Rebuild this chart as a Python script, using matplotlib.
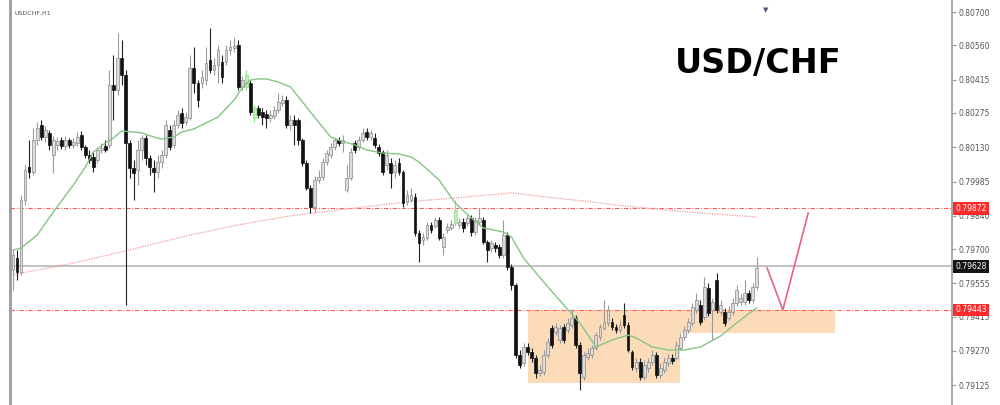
import matplotlib
matplotlib.use("Agg")
import matplotlib.pyplot as plt
import matplotlib.transforms as mtransforms
from matplotlib.patches import Rectangle
import numpy as np

# H1 candles, USD/CHF
opens = [
    0.79612, 0.79662, 0.79603, 0.79907, 0.80046, 0.80025, 0.80160, 0.80224, 0.80173, 0.80190,
    0.80097, 0.80139, 0.80160, 0.80135, 0.80160, 0.80139, 0.80148, 0.80181, 0.80131, 0.80097,
    0.80089, 0.80076, 0.80118, 0.80135, 0.80139, 0.80392, 0.80371, 0.80506, 0.80434, 0.80148,
    0.80042, 0.80034, 0.80118, 0.80169, 0.80084, 0.80042, 0.80025, 0.80067, 0.80097, 0.80202,
    0.80139, 0.80224, 0.80274, 0.80236, 0.80253, 0.80464, 0.80401, 0.80401, 0.80413, 0.80498,
    0.80456, 0.80477, 0.80489, 0.80489, 0.80540, 0.80548, 0.80561, 0.80384, 0.80384, 0.80401,
    0.80253, 0.80295, 0.80278, 0.80270, 0.80253, 0.80262, 0.80287, 0.80316, 0.80329, 0.80224,
    0.80245, 0.80245, 0.80160, 0.80063, 0.79958, 0.79877, 0.79991, 0.80004, 0.80067, 0.80097,
    0.80131, 0.80160, 0.80148, 0.79949, 0.80000, 0.80148, 0.80131, 0.80160, 0.80194, 0.80173,
    0.80169, 0.80131, 0.80110, 0.80055, 0.80063, 0.80025, 0.80063, 0.80025, 0.79899, 0.79907,
    0.79920, 0.79768, 0.79738, 0.79747, 0.79802, 0.79797, 0.79823, 0.79709, 0.79780, 0.79789,
    0.79810, 0.79802, 0.79814, 0.79810, 0.79831, 0.79772, 0.79814, 0.79823, 0.79730, 0.79704,
    0.79717, 0.79709, 0.79675, 0.79759, 0.79624, 0.79548, 0.79253, 0.79219, 0.79287, 0.79266,
    0.79240, 0.79177, 0.79181, 0.79253, 0.79367, 0.79350, 0.79316, 0.79371, 0.79359, 0.79380,
    0.79409, 0.79295, 0.79160, 0.79245, 0.79253, 0.79282, 0.79329, 0.79367, 0.79388, 0.79392,
    0.79371, 0.79359, 0.79422, 0.79380, 0.79266, 0.79198, 0.79223, 0.79160, 0.79198, 0.79223,
    0.79253, 0.79169, 0.79190, 0.79219, 0.79240, 0.79240, 0.79282, 0.79329, 0.79359, 0.79388,
    0.79443, 0.79464, 0.79413, 0.79536, 0.79443, 0.79570, 0.79434, 0.79434, 0.79409, 0.79434,
    0.79472, 0.79477, 0.79477, 0.79515, 0.79485, 0.79540,
]
highs = [
    0.79696, 0.79696, 0.79928, 0.80055, 0.80160, 0.80211, 0.80236, 0.80245, 0.80219, 0.80202,
    0.80177, 0.80173, 0.80173, 0.80177, 0.80169, 0.80169, 0.80194, 0.80198, 0.80139, 0.80118,
    0.80110, 0.80131, 0.80148, 0.80160, 0.80456, 0.80519, 0.80612, 0.80582, 0.80456, 0.80160,
    0.80076, 0.80160, 0.80181, 0.80181, 0.80097, 0.80076, 0.80097, 0.80118, 0.80245, 0.80224,
    0.80245, 0.80287, 0.80295, 0.80278, 0.80519, 0.80553, 0.80413, 0.80456, 0.80553, 0.80633,
    0.80506, 0.80561, 0.80519, 0.80561, 0.80582, 0.80595, 0.80582, 0.80430, 0.80456, 0.80413,
    0.80308, 0.80308, 0.80295, 0.80287, 0.80287, 0.80304, 0.80359, 0.80350, 0.80346, 0.80266,
    0.80266, 0.80253, 0.80169, 0.80076, 0.79970, 0.80008, 0.80034, 0.80084, 0.80118, 0.80148,
    0.80169, 0.80173, 0.80181, 0.80055, 0.80126, 0.80160, 0.80177, 0.80211, 0.80211, 0.80202,
    0.80190, 0.80143, 0.80118, 0.80118, 0.80084, 0.80076, 0.80084, 0.80034, 0.79949, 0.79958,
    0.79937, 0.79780, 0.79768, 0.79814, 0.79814, 0.79835, 0.79835, 0.79768, 0.79810, 0.79823,
    0.79907, 0.79831, 0.79831, 0.79848, 0.79844, 0.79835, 0.79873, 0.79835, 0.79738, 0.79738,
    0.79730, 0.79721, 0.79823, 0.79772, 0.79637, 0.79557, 0.79274, 0.79304, 0.79304, 0.79282,
    0.79253, 0.79211, 0.79274, 0.79325, 0.79380, 0.79388, 0.79380, 0.79384, 0.79409, 0.79443,
    0.79422, 0.79308, 0.79266, 0.79282, 0.79295, 0.79350, 0.79384, 0.79485, 0.79464, 0.79409,
    0.79384, 0.79401, 0.79472, 0.79392, 0.79274, 0.79240, 0.79240, 0.79232, 0.79240, 0.79274,
    0.79266, 0.79219, 0.79245, 0.79257, 0.79257, 0.79312, 0.79346, 0.79375, 0.79409, 0.79472,
    0.79515, 0.79485, 0.79582, 0.79557, 0.79493, 0.79599, 0.79485, 0.79451, 0.79460, 0.79493,
    0.79548, 0.79510, 0.79570, 0.79527, 0.79557, 0.79667,
]
lows = [
    0.79527, 0.79569, 0.79591, 0.79886, 0.80000, 0.80012, 0.80139, 0.80160, 0.80152, 0.80118,
    0.80021, 0.80118, 0.80122, 0.80118, 0.80126, 0.80126, 0.80135, 0.80118, 0.80084, 0.80063,
    0.80025, 0.80063, 0.80105, 0.80110, 0.80126, 0.80245, 0.80350, 0.80392, 0.79464, 0.80000,
    0.79907, 0.79970, 0.80076, 0.80055, 0.80012, 0.79941, 0.80000, 0.80042, 0.80084, 0.80118,
    0.80126, 0.80211, 0.80211, 0.80224, 0.80245, 0.80359, 0.80300, 0.80380, 0.80392, 0.80443,
    0.80434, 0.80401, 0.80401, 0.80477, 0.80519, 0.80532, 0.80371, 0.80371, 0.80371, 0.80266,
    0.80236, 0.80253, 0.80224, 0.80211, 0.80236, 0.80249, 0.80274, 0.80304, 0.80211, 0.80202,
    0.80139, 0.80139, 0.80050, 0.79949, 0.79852, 0.79856, 0.79979, 0.79991, 0.80055, 0.80084,
    0.80118, 0.80135, 0.80110, 0.79941, 0.79991, 0.80105, 0.80118, 0.80152, 0.80160, 0.80160,
    0.80126, 0.80093, 0.80012, 0.80034, 0.79958, 0.80000, 0.80012, 0.79877, 0.79886, 0.79899,
    0.79755, 0.79645, 0.79717, 0.79738, 0.79768, 0.79789, 0.79738, 0.79675, 0.79768, 0.79780,
    0.79797, 0.79789, 0.79772, 0.79797, 0.79755, 0.79759, 0.79802, 0.79721, 0.79645, 0.79688,
    0.79688, 0.79662, 0.79662, 0.79612, 0.79527, 0.79240, 0.79198, 0.79207, 0.79253, 0.79223,
    0.79156, 0.79164, 0.79169, 0.79240, 0.79282, 0.79337, 0.79304, 0.79304, 0.79346, 0.79367,
    0.79282, 0.79105, 0.79147, 0.79232, 0.79240, 0.79274, 0.79316, 0.79359, 0.79375, 0.79359,
    0.79346, 0.79346, 0.79367, 0.79266, 0.79190, 0.79181, 0.79147, 0.79147, 0.79181, 0.79211,
    0.79156, 0.79156, 0.79177, 0.79207, 0.79215, 0.79232, 0.79274, 0.79316, 0.79346, 0.79375,
    0.79430, 0.79380, 0.79401, 0.79418, 0.79316, 0.79430, 0.79422, 0.79375, 0.79401, 0.79422,
    0.79460, 0.79464, 0.79464, 0.79472, 0.79472, 0.79527,
]
closes = [
    0.79675, 0.79603, 0.79907, 0.80034, 0.80025, 0.80160, 0.80211, 0.80173, 0.80202, 0.80139,
    0.80160, 0.80156, 0.80135, 0.80160, 0.80139, 0.80152, 0.80173, 0.80131, 0.80097, 0.80076,
    0.80046, 0.80118, 0.80126, 0.80118, 0.80392, 0.80371, 0.80506, 0.80434, 0.80148, 0.80042,
    0.80021, 0.80118, 0.80169, 0.80084, 0.80046, 0.80025, 0.80067, 0.80097, 0.80224, 0.80131,
    0.80224, 0.80266, 0.80232, 0.80257, 0.80464, 0.80401, 0.80329, 0.80426, 0.80485, 0.80456,
    0.80477, 0.80540, 0.80426, 0.80540, 0.80553, 0.80557, 0.80384, 0.80413, 0.80434, 0.80278,
    0.80295, 0.80266, 0.80257, 0.80253, 0.80266, 0.80287, 0.80321, 0.80329, 0.80224, 0.80245,
    0.80224, 0.80160, 0.80063, 0.79958, 0.79877, 0.79991, 0.80004, 0.80067, 0.80105, 0.80131,
    0.80160, 0.80148, 0.80160, 0.80000, 0.80110, 0.80118, 0.80160, 0.80190, 0.80173, 0.80190,
    0.80139, 0.80105, 0.80025, 0.80097, 0.80021, 0.80055, 0.80025, 0.79894, 0.79928, 0.79928,
    0.79768, 0.79726, 0.79751, 0.79802, 0.79780, 0.79823, 0.79747, 0.79751, 0.79793, 0.79806,
    0.79865, 0.79814, 0.79789, 0.79831, 0.79772, 0.79823, 0.79831, 0.79730, 0.79696, 0.79726,
    0.79704, 0.79675, 0.79759, 0.79624, 0.79548, 0.79253, 0.79211, 0.79287, 0.79266, 0.79240,
    0.79177, 0.79190, 0.79253, 0.79308, 0.79295, 0.79371, 0.79367, 0.79316, 0.79388, 0.79409,
    0.79295, 0.79177, 0.79253, 0.79261, 0.79282, 0.79337, 0.79371, 0.79392, 0.79443, 0.79371,
    0.79359, 0.79380, 0.79380, 0.79274, 0.79202, 0.79223, 0.79160, 0.79211, 0.79223, 0.79253,
    0.79169, 0.79198, 0.79223, 0.79240, 0.79228, 0.79295, 0.79329, 0.79359, 0.79392, 0.79456,
    0.79485, 0.79392, 0.79540, 0.79430, 0.79477, 0.79443, 0.79464, 0.79388, 0.79434, 0.79472,
    0.79527, 0.79493, 0.79515, 0.79485, 0.79540, 0.79620,
]
# bars painted light green by the indicator
green_bars = [58, 60, 110]

# fast moving average (green), read at these bars
fast_ma_bar = [0, 2, 6, 10, 15, 18, 20, 23, 25, 27, 30, 32, 35, 37, 40, 42, 45, 47, 51, 55,
               57, 59, 61, 63, 66, 69, 72, 76, 79, 81, 85, 88, 92, 96, 99, 101, 106, 110,
               114, 117, 122, 124, 127, 132, 137, 141, 145, 149, 153, 155, 159, 163, 167,
               171, 176, 180, 185]
fast_ma = [0.79696, 0.79704, 0.79759, 0.79856, 0.79970, 0.80046, 0.80110, 0.80148, 0.80169,
           0.80198, 0.80194, 0.80190, 0.80173, 0.80164, 0.80173, 0.80194, 0.80207, 0.80224,
           0.80257, 0.80329, 0.80380, 0.80413, 0.80418, 0.80418, 0.80405, 0.80384, 0.80321,
           0.80236, 0.80173, 0.80160, 0.80139, 0.80118, 0.80105, 0.80101, 0.80089, 0.80067,
           0.79991, 0.79894, 0.79831, 0.79789, 0.79772, 0.79751, 0.79662, 0.79561, 0.79464,
           0.79388, 0.79287, 0.79316, 0.79337, 0.79325, 0.79287, 0.79274, 0.79274, 0.79287,
           0.79333, 0.79388, 0.79452]

# slow moving average (red dotted)
slow_ma_bar = [0, 15, 27, 44, 56, 69, 81, 98, 113, 124, 135, 142, 152, 168, 185]
slow_ma = [0.79591, 0.79641, 0.79688, 0.79759, 0.79802, 0.79840, 0.79865, 0.79899, 0.79920,
           0.79937, 0.79915, 0.79903, 0.79882, 0.79856, 0.79835]

red_levels = [0.79872, 0.79443]
last_price = 0.79628
price_ticks = [0.80700, 0.80560, 0.80415, 0.80275, 0.80130, 0.79985, 0.79840,
               0.79700, 0.79555, 0.79415, 0.79270, 0.79125]

# demand zones: start bar, end bar, top, bottom
zone_start = [128, 166]
zone_end = [166, 204.5]
zone_top = [0.79443, 0.79443]
zone_bottom = [0.79135, 0.79346]

# projected path
proj_bar = [187.6, 191.5, 197.8]
proj_price = [0.79620, 0.79443, 0.79852]

fig = plt.figure(figsize=(10, 4.05), dpi=100)
ax = fig.add_axes([0.010, 0.0, 0.942, 1.0])

o = np.array(opens)
h = np.array(highs)
l = np.array(lows)
c = np.array(closes)
x = np.arange(len(o))
up = c >= o

face = np.where(up, "#dcdcdc", "#111111").astype(object)
edge = np.where(up, "#8a8a8a", "#111111").astype(object)
wick = np.where(up, "#9a9a9a", "#222222").astype(object)
for g in green_bars:
    face[g] = "#b9efb0"
    edge[g] = "#8fdc86"
    wick[g] = "#8fdc86"

ax.vlines(x, l, h, colors=list(wick), lw=0.8, zorder=3)
body_h = np.maximum(np.abs(c - o), 0.00002)
ax.bar(x, body_h, bottom=np.minimum(o, c), width=0.7, color=list(face),
       edgecolor=list(edge), linewidth=0.5, zorder=4)

# zones
for s, e, t, b in zip(zone_start, zone_end, zone_top, zone_bottom):
    ax.add_patch(Rectangle((s, b), e - s, t - b, facecolor="#fcdcb8",
                           edgecolor="none", zorder=1))

# levels
for lv in red_levels:
    ax.axhline(lv, color="#ff5a5a", lw=0.8, linestyle=(0, (4, 1.5, 1, 1.5)), zorder=2)
ax.axhline(last_price, color="#b8b8b8", lw=1.2, zorder=2)

# moving averages
ax.plot(fast_ma_bar, fast_ma, color="#86c486", lw=1.0, zorder=5)
ax.plot(slow_ma_bar, slow_ma, color="#f29a9a", lw=0.9, linestyle=(0, (1, 1)), zorder=2)

# projection
ax.plot(proj_bar, proj_price, color="#e8647c", lw=1.2, zorder=5)

ax.set_xlim(-0.746, 233.58)
ax.set_ylim(0.790419, 0.80751)

for side in ["top", "bottom"]:
    ax.spines[side].set_visible(False)
ax.spines["left"].set_color("#9a9a9a")
ax.spines["left"].set_linewidth(2)
ax.spines["right"].set_color("#9a9a9a")
ax.spines["right"].set_linewidth(1.2)

ax.set_xticks([])
ax.yaxis.tick_right()
ax.set_yticks(price_ticks)
ax.set_yticklabels(["%.5f" % p for p in price_ticks])
ax.tick_params(axis="y", labelsize=5.5, labelcolor="#555555", color="#9a9a9a",
               length=3, width=0.8, pad=2)

# price tags on the scale
trans = mtransforms.blended_transform_factory(ax.transAxes, ax.transData)
tags = [(red_levels[0], "#ff2a2a"), (last_price, "#151515"), (red_levels[1], "#ff2a2a")]
for lv, col in tags:
    ax.text(1.0035, lv, "%.5f" % lv, transform=trans, ha="left", va="center",
            fontsize=5.5, color="white", clip_on=False, zorder=10,
            bbox=dict(boxstyle="square,pad=0.25", facecolor=col, edgecolor="none"))

ax.text(0.005, 0.968, "USDCHF,H1", transform=ax.transAxes, fontsize=4.5,
        color="#555555", ha="left", va="center")

fig.text(0.7585, 1 - 73 / 405, "USD/CHF", fontsize=24, fontweight="bold",
         color="black", ha="center", va="baseline")
fig.text(0.766, 1 - 10 / 405, "\u25bc", fontsize=5, color="#4a5a72",
         ha="center", va="center")

fig.savefig("out.png", dpi=100)
